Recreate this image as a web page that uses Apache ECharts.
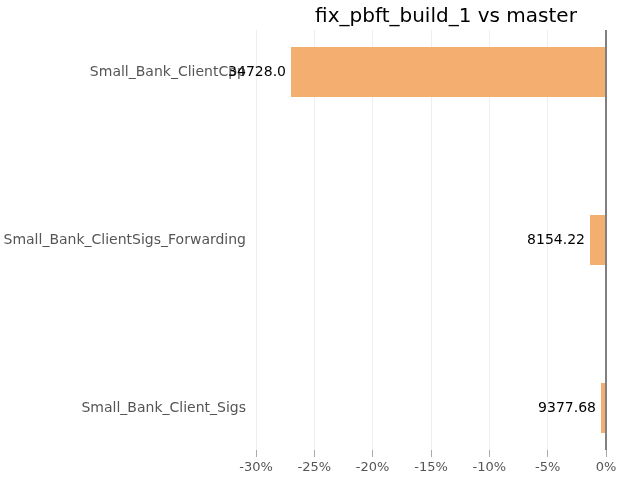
<!DOCTYPE html>
<html>
<head>
<meta charset="utf-8">
<script src="https://cdn.jsdelivr.net/npm/echarts@6/dist/echarts.min.js"></script>
<style>html,body{margin:0;padding:0;background:#fff}#c{width:640px;height:480px}</style>
</head>
<body>
<div id="c"></div>
<script>
var titleText = 'fix_pbft_build_1 vs master';
var categories = ['Small_Bank_ClientCpp', 'Small_Bank_ClientSigs_Forwarding', 'Small_Bank_Client_Sigs'];
var pctChange = [-27.0, -1.37, -0.43];
var valueLabels = ['34728.0', '8154.22', '9377.68'];
var xMin = -30, xMax = 0, xStep = 5;

// The category range runs from -0.25 to 2.25; build a fine slot axis (4 slots per category)
var slotsPerCat = 4;
var slotNames = [], slotValues = [], slotLabels = [];
var totalSlots = categories.length * slotsPerCat - 1; // indices 0..10
for (var s = 0; s < totalSlots; s++) {
  var k = (s - 1) / slotsPerCat;
  if (k >= 0 && Math.floor(k) === k && k < categories.length) {
    slotNames.push(categories[k]);
    slotValues.push(pctChange[k]);
    slotLabels.push(valueLabels[k]);
  } else {
    slotNames.push('');
    slotValues.push(null);
    slotLabels.push('');
  }
}

var font = 'DejaVu Sans';
var chart = echarts.init(document.getElementById('c'), null, {renderer: 'canvas'});
chart.setOption({
  animation: false,
  backgroundColor: '#fff',
  textStyle: {fontFamily: font},
  title: {
    text: titleText, left: 441, top: 2, textAlign: 'center',
    textStyle: {fontFamily: font, fontSize: 20, fontWeight: 'normal', color: '#000'}
  },
  grid: {left: 256, right: 34, top: 30, bottom: 30},
  xAxis: {
    type: 'value', min: xMin, max: xMax, interval: xStep,
    axisLine: {show: false},
    axisTick: {show: true, length: 7, lineStyle: {color: '#aaa'}},
    axisLabel: {formatter: '{value}%', color: '#555', fontSize: 13, margin: 11, fontFamily: font},
    splitLine: {show: true, lineStyle: {color: '#eeeeee', width: 1}}
  },
  yAxis: {
    type: 'category', data: slotNames, inverse: true, boundaryGap: false,
    axisLine: {show: false}, axisTick: {show: false}, splitLine: {show: false},
    axisLabel: {color: '#555', fontSize: 14, margin: 10, fontFamily: font, interval: 0}
  },
  series: [
    {
      type: 'bar', barWidth: 50, z: 1,
      data: slotValues,
      itemStyle: {color: '#f4af70'},
      label: {
        show: true, position: 'left', distance: 5, color: '#000', fontSize: 14, fontFamily: font,
        formatter: function (p) { return slotLabels[p.dataIndex]; }
      },
      markLine: {
        silent: true, symbol: 'none', animation: false,
        label: {show: false},
        lineStyle: {color: '#808080', width: 2, type: 'solid'},
        data: [{xAxis: 0}]
      }
    }
  ]
});
</script>
</body>
</html>
